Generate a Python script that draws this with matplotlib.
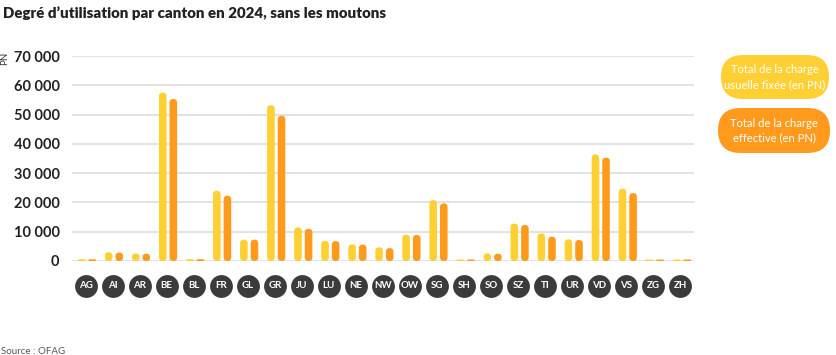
import matplotlib
matplotlib.use("Agg")
import matplotlib.pyplot as plt
from matplotlib.patches import FancyBboxPatch
import matplotlib.transforms as mtransforms

cantons = ["AG", "AI", "AR", "BE", "BL", "FR", "GL", "GR", "JU", "LU", "NE", "NW",
           "OW", "SG", "SH", "SO", "SZ", "TI", "UR", "VD", "VS", "ZG", "ZH"]
charge_usuelle = [600, 3000, 2600, 57500, 600, 24000, 7300, 53200, 11500, 6900, 5700, 4700,
                  9000, 20800, 500, 2600, 12800, 9400, 7400, 36400, 24700, 500, 500]
charge_effective = [600, 2900, 2500, 55300, 600, 22300, 7300, 49600, 11000, 6800, 5600, 4400,
                    8900, 19700, 500, 2500, 12300, 8300, 7200, 35300, 23200, 500, 500]
yticks = [0, 10000, 20000, 30000, 40000, 50000, 60000, 70000]
ytick_labels = ["0", "10 000", "20 000", "30 000", "40 000", "50 000", "60 000", "70 000"]
legend_labels = ["Total de la charge\nusuelle fixée (en PN)", "Total de la charge\neffective (en PN)"]

YELLOW = "#FFD033"
ORANGE = "#FF9A1C"
DARK = "#3B3B3B"
FONT = ["Lato", "DejaVu Sans"]
plt.rcParams["font.family"] = FONT

W, H = 836, 355
fig = plt.figure(figsize=(W / 100, H / 100), dpi=100)
L, R, T, B = 72, 694, 56, 261
ax = fig.add_axes([L / W, 1 - B / H, (R - L) / W, (B - T) / H])
ax.set_xlim(-0.5, len(cantons) - 0.5)
ax.set_ylim(0, 70000)

px_x = (R - L) / len(cantons)          # pixels per x unit
px_y = (B - T) / 70000                 # pixels per y unit
bar_w = 7.6 / px_x
offset = 5.3 / px_x
shift = 1.4 / px_x
aspect = px_x / px_y

for i, (v1, v2) in enumerate(zip(charge_usuelle, charge_effective)):
    for v, off, col in ((v1, -offset, YELLOW), (v2, offset, ORANGE)):
        x0 = i + shift + off - bar_w / 2
        p = FancyBboxPatch((x0, 0), bar_w, v,
                           boxstyle=f"round,pad=0,rounding_size={min(bar_w/2, v/aspect/2)}",
                           mutation_aspect=aspect, fc=col, ec="none", zorder=3)
        ax.add_patch(p)

ax.set_yticks(yticks)
ax.set_yticklabels(ytick_labels, fontsize=10.5, fontweight="bold", color="#222222")
ax.tick_params(axis="y", length=0, pad=9)
ax.set_xticks([])
ax.grid(axis="y", color="#DDDDDD", linewidth=1.2, zorder=0)
for s in ax.spines.values():
    s.set_visible(False)

# category badges
trans = mtransforms.blended_transform_factory(ax.transData, ax.transAxes)
ycirc = -(285.7 - B) / (B - T)
ax.scatter(range(len(cantons)), [ycirc] * len(cantons), s=270, color=DARK,
           transform=trans, clip_on=False, zorder=4, linewidths=0)
for i, c in enumerate(cantons):
    ax.text(i, ycirc, c, transform=trans, ha="center", va="center", color="white",
            fontsize=7, fontweight="bold", zorder=5, clip_on=False)

# axis unit
fig.text(5 / W, 1 - 58 / H, "PN", rotation=90, fontsize=7, color="#333333",
         ha="center", va="center")

# title & source
fig.text(3 / W, 1 - 13 / H, "Degré d\u2019utilisation par canton en 2024, sans les moutons",
         fontsize=10.8, fontweight="heavy", color="#222222", ha="left", va="center")
fig.text(1 / W, 1 - 351 / H, "Source : OFAG", fontsize=7, color="#555555",
         ha="left", va="center")

# legend pills
pills = [((721, 55, 829, 99), YELLOW), ((718, 108, 830, 153), ORANGE)]
for (x0, y0, x1, y1), col in pills:
    h = y1 - y0
    pw = x1 - x0
    box = FancyBboxPatch((x0 / W, 1 - y1 / H), pw / W, h / H,
                         boxstyle=f"round,pad=0,rounding_size={h / 2 / W}",
                         mutation_aspect=W / H, transform=fig.transFigure,
                         fc=col, ec="none")
    fig.patches.append(box)
for ((x0, y0, x1, y1), col), lab in zip(pills, legend_labels):
    fig.text((x0 + x1) / 2 / W, 1 - (y0 + y1) / 2 / H, lab, ha="center", va="center",
             color="white", fontsize=8.1, linespacing=1.4)

fig.savefig("out.png", dpi=100)
